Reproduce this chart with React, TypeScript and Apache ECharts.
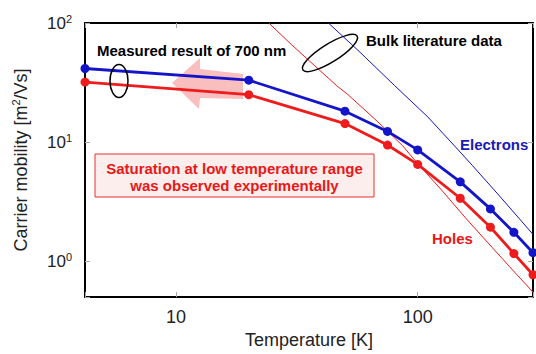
import React, { useEffect, useRef } from "react";
import * as echarts from "echarts";

// Measured data (700 nm film)
const temperatures = [4.2, 20, 50, 75, 100, 150, 200, 250, 300];
const electronsMeasured = [41.5, 33.1, 18.2, 12.3, 8.6, 4.64, 2.75, 1.75, 1.18];
const holesMeasured = [31.9, 25.0, 14.3, 9.45, 6.5, 3.38, 1.93, 1.16, 0.77];

// Bulk literature data
const bulkElectronT = [42.7, 56.6, 61, 80, 110, 142, 168, 220, 300];
const bulkElectronMu = [100, 59, 51, 30, 16.3, 9.3, 6.4, 3.46, 1.68];
const bulkHoleT = [24.2, 30, 46, 51.5, 68.4, 86.7, 100, 125, 158, 194, 240, 300];
const bulkHoleMu = [100, 66, 30, 25, 14.8, 9.3, 6.6, 4.0, 2.3, 1.45, 0.9, 0.55];

const xMin = 4.2;
const xMax = 300;
const yMin = 0.5;
const yMax = 100;

const FONT = '"Liberation Sans", Arial, Helvetica, sans-serif';
const BLUE = "#1414c8";
const RED = "#ee1c1c";

const pairs = (xs: number[], ys: number[]) => xs.map((x, i) => [x, ys[i]]);

const isDecade = (v: number) => {
  const l = Math.log10(v);
  return Math.abs(l - Math.round(l)) < 1e-6;
};

export default function App() {
  const ref = useRef<HTMLDivElement>(null);

  useEffect(() => {
    if (!ref.current) return;
    const chart = echarts.init(ref.current, null, { renderer: "svg" });

    const tickStyle = { inside: true, length: 5, lineStyle: { color: "#aaa", width: 1 } };
    const frameLine = { show: true, onZero: false, lineStyle: { color: "#000", width: 2 } };

    const option: any = {
      animation: false,
      backgroundColor: "#fff",
      textStyle: { fontFamily: FONT },
      grid: { left: 85, right: 1, top: 23, bottom: 48, containLabel: false },
      xAxis: [
        {
          type: "log",
          logBase: 10,
          min: xMin,
          max: xMax,
          position: "bottom",
          axisLine: frameLine,
          axisTick: tickStyle,
          splitLine: { show: false },
          minorTick: { show: false },
          axisLabel: {
            fontSize: 18,
            color: "#222",
            fontFamily: FONT,
            margin: 11,
            formatter: (v: number) => (isDecade(v) ? String(Math.round(v)) : ""),
          },
          name: "Temperature [K]",
          nameLocation: "middle",
          nameGap: 31,
          nameTextStyle: { fontSize: 18, color: "#222", fontFamily: FONT },
        },
        {
          type: "log",
          logBase: 10,
          min: xMin,
          max: xMax,
          position: "top",
          axisLine: frameLine,
          axisTick: tickStyle,
          splitLine: { show: false },
          axisLabel: { show: false },
        },
      ],
      yAxis: [
        {
          type: "log",
          logBase: 10,
          min: yMin,
          max: yMax,
          position: "left",
          axisLine: frameLine,
          axisTick: tickStyle,
          splitLine: { show: false },
          axisLabel: {
            margin: 13,
            color: "#222",
            formatter: (v: number) =>
              isDecade(v) ? `{b|10}{s|${Math.round(Math.log10(v))}}` : "",
            rich: {
              b: { fontSize: 17, lineHeight: 20, color: "#222", fontFamily: FONT },
              s: { fontSize: 11, lineHeight: 11, verticalAlign: "top", color: "#222", fontFamily: FONT },
            },
          },
          name: "{a|Carrier mobility [m}{s|2}{a|/Vs]}",
          nameLocation: "middle",
          nameRotate: 90,
          nameGap: 53,
          nameTextStyle: {
            rich: {
              a: { fontSize: 18, lineHeight: 22, color: "#222", fontFamily: FONT },
              s: { fontSize: 11, lineHeight: 11, verticalAlign: "top", color: "#222", fontFamily: FONT },
            },
          },
        },
        {
          type: "log",
          logBase: 10,
          min: yMin,
          max: yMax,
          position: "right",
          axisLine: frameLine,
          axisTick: tickStyle,
          splitLine: { show: false },
          axisLabel: { show: false },
        },
      ],
      series: [
        {
          name: "Bulk electrons",
          type: "line",
          data: pairs(bulkElectronT, bulkElectronMu),
          showSymbol: false,
          symbol: "none",
          lineStyle: { color: BLUE, width: 1 },
          itemStyle: { color: BLUE },
          z: 2,
        },
        {
          name: "Bulk holes",
          type: "line",
          data: pairs(bulkHoleT, bulkHoleMu),
          showSymbol: false,
          symbol: "none",
          lineStyle: { color: RED, width: 1 },
          itemStyle: { color: RED },
          z: 2,
        },
        {
          name: "Electrons",
          type: "line",
          data: pairs(temperatures, electronsMeasured),
          symbol: "circle",
          symbolSize: 9,
          lineStyle: { color: BLUE, width: 2.8 },
          itemStyle: { color: BLUE },
          z: 3,
        },
        {
          name: "Holes",
          type: "line",
          data: pairs(temperatures, holesMeasured),
          symbol: "circle",
          symbolSize: 9,
          lineStyle: { color: RED, width: 2.8 },
          itemStyle: { color: RED },
          z: 3,
        },
      ],
      graphic: [
        {
          type: "polygon",
          z: 0,
          shape: {
            points: [
              [172, 83],
              [200, 58],
              [200, 69],
              [243, 74],
              [243, 99],
              [200, 98],
              [199, 109],
            ],
          },
          style: { fill: "#f9bebe" },
        },
        {
          type: "rect",
          z: 1,
          shape: { x: 95, y: 154, width: 279, height: 43 },
          style: { fill: "#fdeeee", stroke: "#e83030", lineWidth: 1 },
        },
        {
          type: "text",
          z: 10,
          x: 234.5,
          y: 168,
          style: {
            text: "Saturation at low temperature range",
            font: `bold 15px ${FONT}`,
            fill: "#e81818",
            align: "center",
            verticalAlign: "middle",
          },
        },
        {
          type: "text",
          z: 10,
          x: 234.5,
          y: 185,
          style: {
            text: "was observed experimentally",
            font: `bold 15px ${FONT}`,
            fill: "#e81818",
            align: "center",
            verticalAlign: "middle",
          },
        },
        {
          type: "text",
          z: 10,
          x: 97,
          y: 50,
          style: {
            text: "Measured result of 700 nm",
            font: `bold 15px ${FONT}`,
            fill: "#000",
            align: "left",
            verticalAlign: "middle",
          },
        },
        {
          type: "text",
          z: 10,
          x: 366,
          y: 40,
          style: {
            text: "Bulk literature data",
            font: `bold 15px ${FONT}`,
            fill: "#000",
            align: "left",
            verticalAlign: "middle",
          },
        },
        {
          type: "text",
          z: 10,
          x: 460,
          y: 144,
          style: {
            text: "Electrons",
            font: `bold 15px ${FONT}`,
            fill: "#1a1ab4",
            align: "left",
            verticalAlign: "middle",
          },
        },
        {
          type: "text",
          z: 10,
          x: 432,
          y: 238,
          style: {
            text: "Holes",
            font: `bold 15px ${FONT}`,
            fill: "#e81818",
            align: "left",
            verticalAlign: "middle",
          },
        },
        {
          type: "ellipse",
          z: 10,
          shape: { cx: 119, cy: 81, rx: 9, ry: 16.5 },
          style: { fill: "none", stroke: "#000", lineWidth: 1.5 },
        },
        {
          type: "ellipse",
          z: 10,
          x: 330,
          y: 53,
          rotation: (32 * Math.PI) / 180,
          shape: { cx: 0, cy: 0, rx: 32, ry: 9 },
          style: { fill: "none", stroke: "#000", lineWidth: 1.5 },
        },
      ],
    };

    chart.setOption(option);
    return () => chart.dispose();
  }, []);

  return (
    <div
      ref={ref}
      style={{ position: "fixed", left: 0, top: 0, width: 536, height: 354, background: "#fff" }}
    />
  );
}
